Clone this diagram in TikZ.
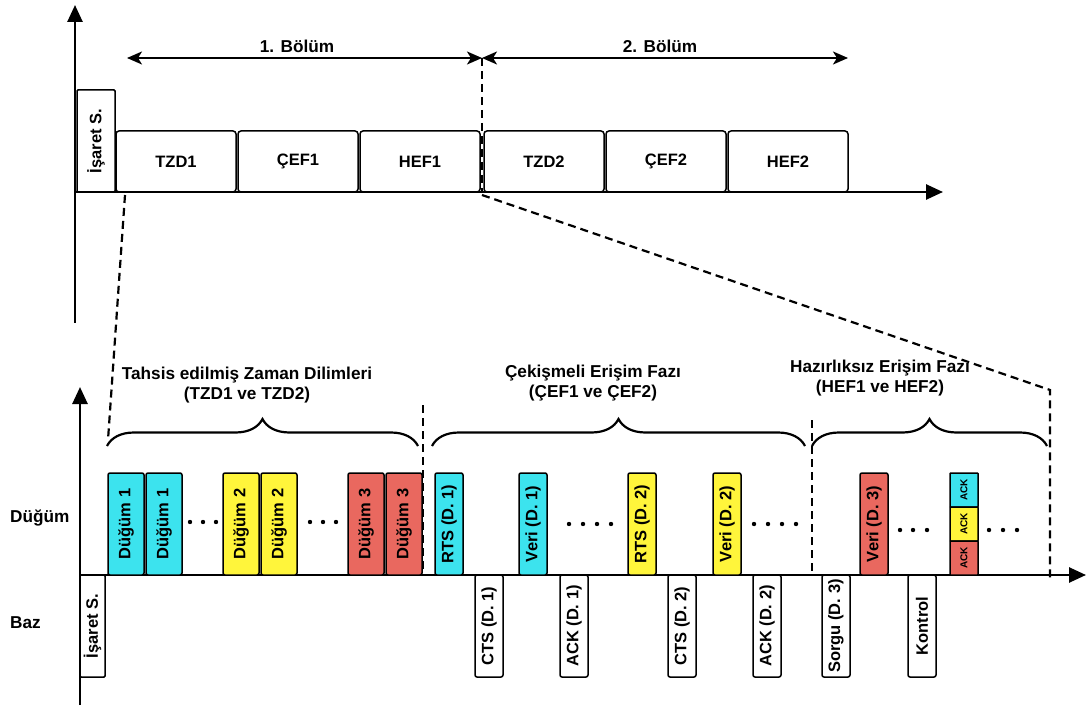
\documentclass[tikz,border=0pt]{standalone}
\usepackage{fontspec}
\setmainfont{Liberation Sans}
\usetikzlibrary{arrows.meta,decorations.pathreplacing}

\definecolor{nodecyan}{HTML}{3CE3EE}
\definecolor{nodeyellow}{HTML}{FFF53B}
\definecolor{nodered}{HTML}{E9685F}

\begin{document}
\begin{tikzpicture}[x=1pt,y=-1pt,
  every node/.style={font=\bfseries\fontsize{16.5}{20}\selectfont, inner sep=0pt},
  biglabel/.style={font=\bfseries\fontsize{17.2}{20}\selectfont, align=center},
  axis/.style={line width=2.6pt, -{Triangle[length=17pt,width=15pt]}},
  guide/.style={line width=2.2pt, dash pattern=on 8pt off 5pt},
  span/.style={line width=2pt, {Stealth[length=15pt,width=13pt,inset=4pt]}-{Stealth[length=15pt,width=13pt,inset=4pt]}},
  frame/.style={draw, line width=1.5pt, rounded corners=3pt, fill=white},
  slot/.style={draw, line width=1.5pt, rounded corners=2pt, rotate=90, minimum width=102pt},
  acknode/.style={draw, line width=1.5pt, rounded corners=0.6pt, rotate=90, minimum width=34pt, minimum height=28pt, font=\bfseries\fontsize{10}{12}\selectfont},
  phasebrace/.style={decorate, decoration={brace, amplitude=27pt}, line width=2.2pt},
  dot/.style={circle, fill=black, minimum size=4.4pt, inner sep=0pt}
]
\useasboundingbox (0,0) rectangle (1086,708);

% ---------- superframe overview ----------
\coordinate (topO) at (75,192);
\coordinate (topY) at (75,5);
\coordinate (topYend) at (75,323);
\coordinate (topX) at (943,192);
\draw[axis] (topYend) -- (topY);
\draw[axis] (topO) -- (topX);

\node[frame, rotate=90, minimum width=102pt, minimum height=38pt, rounded corners=1pt] (isaretTop) at (96,141) {İşaret S.};
\node[frame, minimum width=120pt, minimum height=61pt] (tzd1) at (176,161.5) {TZD1};
\node[frame, minimum width=120pt, minimum height=61pt] (cef1) at (298,161.5) {ÇEF1};
\node[frame, minimum width=120pt, minimum height=61pt] (hef1) at (420,161.5) {HEF1};
\node[frame, minimum width=120pt, minimum height=61pt] (tzd2) at (544,161.5) {TZD2};
\node[frame, minimum width=120pt, minimum height=61pt] (cef2) at (666,161.5) {ÇEF2};
\node[frame, minimum width=120pt, minimum height=61pt] (hef2) at (788,161.5) {HEF2};

% part spans
\coordinate (spanA) at (127,58);
\coordinate (spanM) at (482,58);
\coordinate (spanB) at (848,58);
\draw[span] (spanA) -- (spanM);
\draw[span] (spanM) -- (spanB);
\node[biglabel] (part1) at (297,46) {1. Bölüm};
\node[biglabel] (part2) at (660,46) {2. Bölüm};

% zoom guides
\coordinate (cutTop) at (482,192);
\coordinate (cutLow) at (482,195);
\coordinate (zoomR) at (1050,390);
\coordinate (zoomRb) at (1050,578);
\coordinate (zoomLa) at (125,195);
\coordinate (zoomLb) at (108,440);
\draw[guide] (spanM) -- (cutTop);
\draw[guide] (cutLow) -- (zoomR) -- (zoomRb);
\draw[guide] (zoomLa) -- (zoomLb);

% ---------- detailed timeline ----------
\coordinate (botO) at (80,575);
\coordinate (botY) at (80,387);
\coordinate (botYend) at (80,705);
\coordinate (botX) at (1086,575);
\draw[axis] (botYend) -- (botY);
\draw[axis] (botO) -- (botX);

\node[biglabel, anchor=west] (rowNode) at (10,518) {Düğüm};
\node[biglabel, anchor=west] (rowBase) at (10,623) {Baz};

\node[frame, rotate=90, minimum width=102pt, minimum height=25pt, rounded corners=1pt] (isaretBot) at (92.5,626) {İşaret S.};

% allocated slots
\node[slot, fill=nodecyan, minimum height=36pt] (d1a) at (126,524) {Düğüm 1};
\node[slot, fill=nodecyan, minimum height=36pt] (d1b) at (164,524) {Düğüm 1};
\node[slot, fill=nodeyellow, minimum height=36pt] (d2a) at (241,524) {Düğüm 2};
\node[slot, fill=nodeyellow, minimum height=36pt] (d2b) at (279,524) {Düğüm 2};
\node[slot, fill=nodered, minimum height=36pt] (d3a) at (366,524) {Düğüm 3};
\node[slot, fill=nodered, minimum height=36pt] (d3b) at (404,524) {Düğüm 3};

% contention access
\node[slot, fill=nodecyan, minimum height=28pt] (rts1) at (449,524) {RTS (D. 1)};
\node[slot, fill=nodecyan, minimum height=28pt] (veri1) at (533,524) {Veri (D. 1)};
\node[slot, fill=nodeyellow, minimum height=28pt] (rts2) at (642,524) {RTS (D. 2)};
\node[slot, fill=nodeyellow, minimum height=28pt] (veri2) at (727,524) {Veri (D. 2)};
\node[slot, fill=white, minimum height=28pt] (cts1) at (489,626) {CTS (D. 1)};
\node[slot, fill=white, minimum height=28pt] (ack1) at (574,626) {ACK (D. 1)};
\node[slot, fill=white, minimum height=28pt] (cts2) at (682,626) {CTS (D. 2)};
\node[slot, fill=white, minimum height=28pt] (ack2) at (767,626) {ACK (D. 2)};

% random access
\node[slot, fill=nodered, minimum height=28pt] (veri3) at (874,524) {Veri (D. 3)};
\node[acknode, fill=nodecyan] (ackc) at (964,490) {ACK};
\node[acknode, fill=nodeyellow] (acky) at (964,524) {ACK};
\node[acknode, fill=nodered] (ackr) at (964,558) {ACK};
\node[slot, fill=white, minimum height=28pt] (sorgu) at (836,626) {Sorgu (D. 3)};
\node[slot, fill=white, minimum height=28pt] (kontrol) at (922,626) {Kontrol};

% ellipsis dots
\foreach \x [count=\i] in {190,203,216} \node[dot] (ga\i) at (\x,522) {};
\foreach \x [count=\i] in {310,323,336} \node[dot] (gb\i) at (\x,522) {};
\foreach \x [count=\i] in {569,583,597,611} \node[dot] (gc\i) at (\x,524) {};
\foreach \x [count=\i] in {754,768,782,796} \node[dot] (gd\i) at (\x,524) {};
\foreach \x [count=\i] in {900,913,927} \node[dot] (ge\i) at (\x,530) {};
\foreach \x [count=\i] in {989,1003,1017} \node[dot] (gf\i) at (\x,530) {};

% phase separators
\coordinate (sepAtop) at (423,405);
\coordinate (sepAbot) at (423,575);
\coordinate (sepBtop) at (812,420);
\coordinate (sepBbot) at (812,575);
\draw[guide] (sepAtop) -- (sepAbot);
\draw[guide] (sepBtop) -- (sepBbot);

% phase braces
\coordinate (brAl) at (107,446); \coordinate (brAr) at (418,446);
\coordinate (brBl) at (432,446); \coordinate (brBr) at (805,446);
\coordinate (brCl) at (812,446); \coordinate (brCr) at (1047,446);
\draw[phasebrace] (brAl) -- (brAr);
\draw[phasebrace] (brBl) -- (brBr);
\draw[phasebrace] (brCl) -- (brCr);

\node[biglabel] (phaseA) at (247,385) {Tahsis edilmiş Zaman Dilimleri\\(TZD1 ve TZD2)};
\node[biglabel] (phaseB) at (593,383) {Çekişmeli Erişim Fazı\\(ÇEF1 ve ÇEF2)};
\node[biglabel] (phaseC) at (880,378) {Hazırlıksız Erişim Fazı\\(HEF1 ve HEF2)};
\end{tikzpicture}
\end{document}
